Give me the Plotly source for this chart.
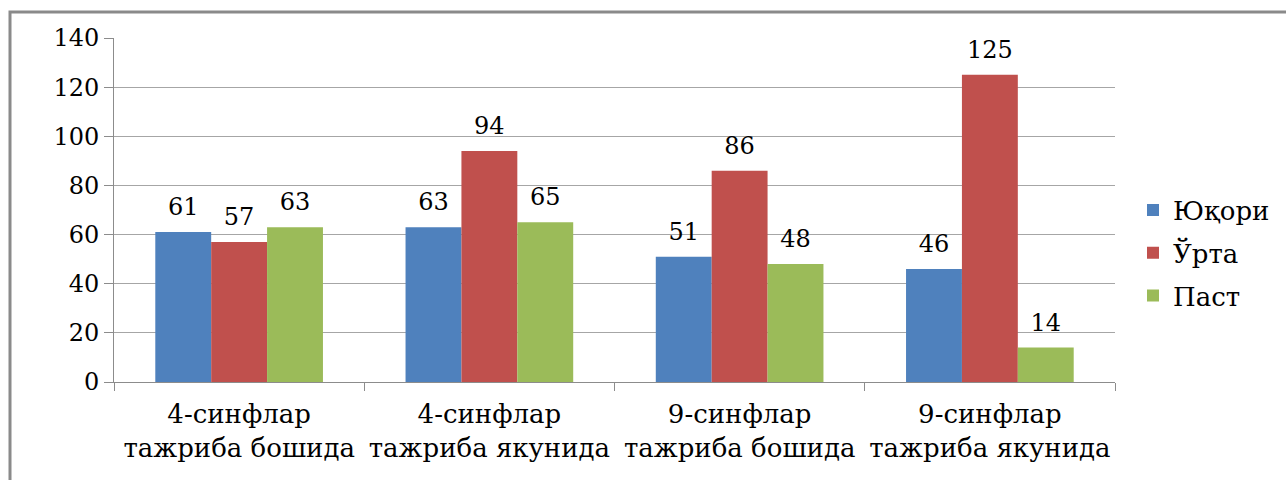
import plotly.graph_objects as go

categories = ["4-синфлар<br>тажриба бошида", "4-синфлар<br>тажриба якунида",
              "9-синфлар<br>тажриба бошида", "9-синфлар<br>тажриба якунида"]
high = [61, 63, 51, 46]
mid = [57, 94, 86, 125]
low = [63, 65, 48, 14]
series_names = ["Юқори", "Ўрта", "Паст"]
colors = ["#4F81BD", "#C0504D", "#9BBB59"]

FONT = "DejaVu Serif"
FS = 24
fig = go.Figure()
for i, (name, vals) in enumerate(zip(series_names, [high, mid, low])):
    fig.add_trace(go.Bar(
        x=categories, y=vals, name=name, marker_color=colors[i],
        marker_line_width=0, legendgroup=name, offsetgroup=str(i),
    ))
for i, (name, vals) in enumerate(zip(series_names, [high, mid, low])):
    fig.add_trace(go.Scatter(
        x=categories, y=vals, mode="markers+text", text=vals,
        textposition="top center", marker=dict(size=16, opacity=0),
        textfont=dict(family=FONT, size=FS, color="black"),
        cliponaxis=False, showlegend=False, offsetgroup=str(i),
        hoverinfo="skip",
    ))

W, H = 1286, 480
L, R, T, B = 114, 171, 38, 98
pw, ph = W - L - R, H - T - B
def px(x): return (x - L) / pw
def py(y): return (H - B - y) / ph

fig.update_layout(
    width=W, height=H, barmode="group", bargap=0.33, bargroupgap=0,
    scattermode="group", scattergap=0.33,
    margin=dict(l=L, r=R, t=T, b=B, pad=0, autoexpand=False),
    paper_bgcolor="white", plot_bgcolor="white",
    font=dict(family=FONT, size=FS, color="black"),
    legend=dict(x=px(1133), y=py(253), xanchor="left", yanchor="middle",
                font=dict(family=FONT, size=26), tracegroupgap=6,
                traceorder="grouped", itemwidth=30),
    xaxis=dict(showline=True, linecolor="#8c8c8c", linewidth=1, ticks="outside",
               tickson="boundaries", ticklen=8, tickcolor="#8c8c8c",
               tickfont=dict(family=FONT, size=26), showgrid=False,
               tickangle=0, ticklabelstandoff=9),
    yaxis=dict(range=[0, 140], dtick=20, showline=True, linecolor="#8c8c8c",
               linewidth=1, ticks="outside", ticklen=9, tickcolor="#8c8c8c",
               gridcolor="#a6a6a6", gridwidth=1, zeroline=False,
               tickfont=dict(family=FONT, size=FS)),
    shapes=[dict(type="path", xref="paper", yref="paper",
                 path=f"M {px(10)} {py(H + 5)} L {px(10)} {py(12)} L {px(W + 5)} {py(12)}",
                 line=dict(color="#8a8a8a", width=3))],
    showlegend=True,
)
fig.write_html("out.html")
